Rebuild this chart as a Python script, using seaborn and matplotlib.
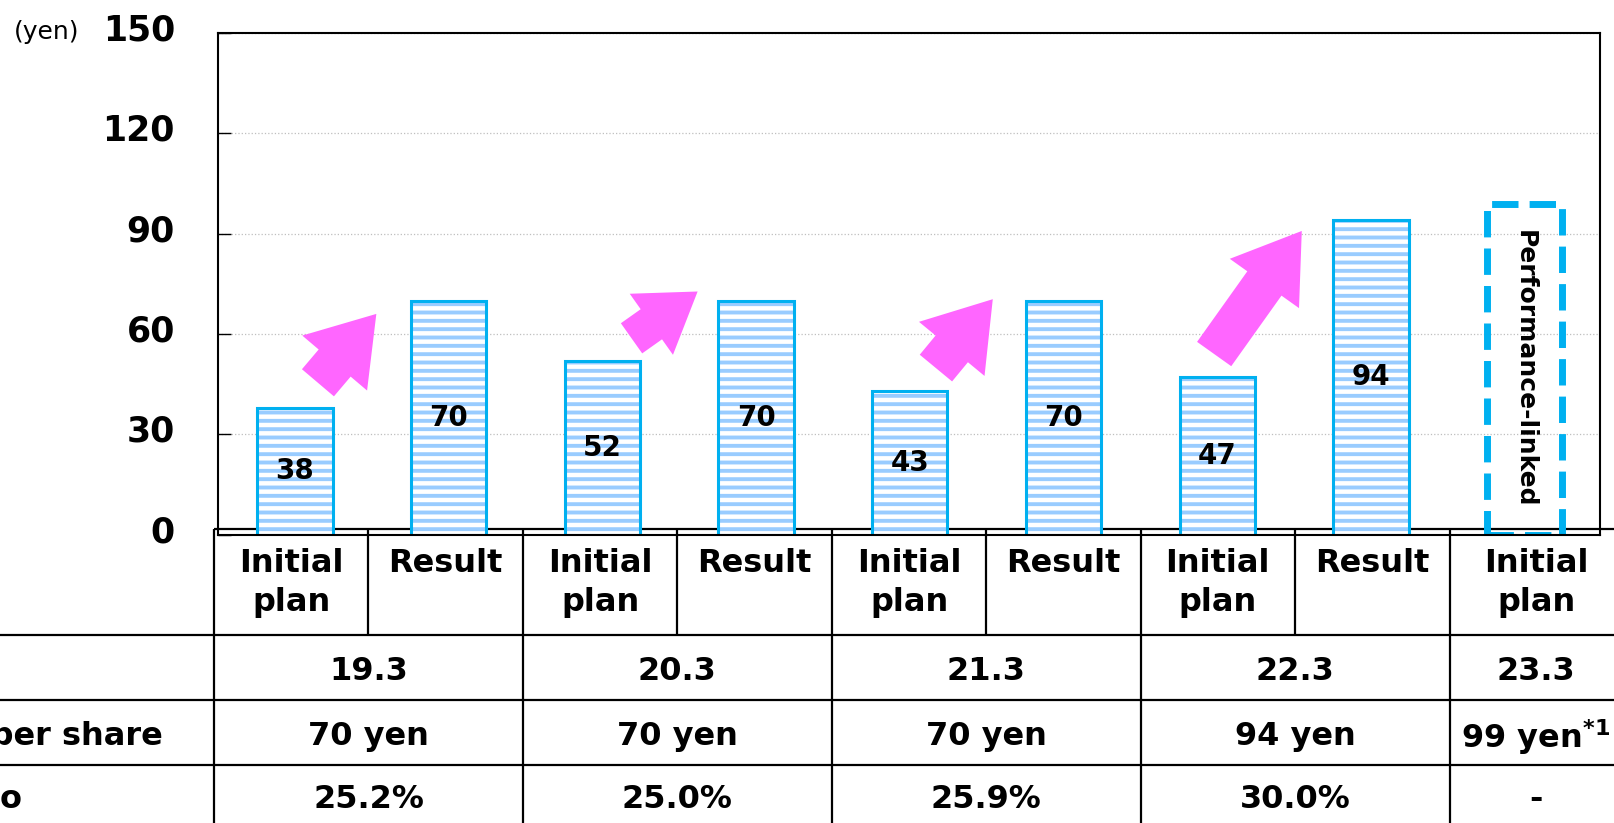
import pandas as pd
import matplotlib.pyplot as plt
import seaborn as sns
from matplotlib.patches import FancyArrowPatch
from matplotlib.transforms import ScaledTranslation

# Data
bar_years = ['19.3', '19.3', '20.3', '20.3', '21.3', '21.3', '22.3', '22.3', '23.3']
kinds = ['Initial\nplan', 'Result', 'Initial\nplan', 'Result', 'Initial\nplan', 'Result',
         'Initial\nplan', 'Result', 'Initial\nplan']
values = [38, 70, 52, 70, 43, 70, 47, 94, 99]
years = ['19.3', '20.3', '21.3', '22.3', '23.3']
dividends = ['70 yen', '70 yen', '70 yen', '94 yen', r'99 yen$^{\mathbf{*1}}$']
payout = ['25.2%', '25.0%', '25.9%', '30.0%', '-']
row_labels = ['FY', 'Dividends per share', 'Payout ratio']
yticks = [0, 30, 60, 90, 120, 150]

# pink "increase" arrows: start -> end (category position, yen) and size factor
arrow_from = [(0.15, 45.4), (2.19, 58.7), (4.17, 49.8), (5.98, 54.0)]
arrow_to = [(0.53, 66.0), (2.62, 72.7), (4.54, 70.4), (6.55, 90.8)]
arrow_size = [1.0, 0.88, 1.0, 1.0]

df = pd.DataFrame({'label': [f'{y} {k}' for y, k in zip(bar_years, kinds)],
                   'value': values})

EDGE = '#00B0F0'
STRIPE = '#99CCFF'
PINK = '#FF66FF'

sns.set_style('white')
plt.rcParams['font.family'] = ['DejaVu Sans']
plt.rcParams['text.color'] = 'black'
plt.rcParams['ytick.labelcolor'] = 'black'
plt.rcParams['hatch.linewidth'] = 2.8
plt.rcParams['hatch.color'] = STRIPE

fig = plt.figure(figsize=(16.14, 8.23), dpi=100)
tab = fig.add_axes([0, 0, 1, 1], zorder=0)
ax = fig.add_axes([0.13507, 0.35042, 0.85626, 0.60948], zorder=1)
ax.patch.set_alpha(0)

n = len(values)
# striped fill
sns.barplot(data=df, x='label', y='value', color='white', width=0.49, errorbar=None,
            hatch='--', edgecolor=STRIPE, linewidth=0, ax=ax)
# cyan outline
sns.barplot(data=df, x='label', y='value', fill=False, color=EDGE, width=0.49,
            errorbar=None, linewidth=2.2, ax=ax)

# last one is a dashed "performance-linked" box
ax.patches[n - 1].set_visible(False)
box = ax.patches[2 * n - 1]
box.set_linewidth(5)
box.set_linestyle((0, (3.8, 1.6)))
box.set_joinstyle('round')

ax.bar_label(ax.containers[0], labels=[str(v) for v in values[:-1]] + [''],
             label_type='center', fontsize=20, fontweight='bold', color='black')
ax.text(n - 1, values[-1] / 2, 'Performance-linked', rotation=-90, ha='center',
        va='center', fontsize=18, fontweight='bold')

for (x0, y0), (x1, y1), s in zip(arrow_from, arrow_to, arrow_size):
    style = f'simple,head_length={46.4 * s},head_width={61.2 * s},tail_width={30.2 * s}'
    ax.add_patch(FancyArrowPatch((x0, y0), (x1, y1), arrowstyle=style, mutation_scale=1,
                                 color=PINK, lw=0, shrinkA=0, shrinkB=0, zorder=4))

ax.set_ylim(0, 150)
ax.set_xlim(-0.5, 8.49)
ax.set_yticks(yticks)
ax.set_xlabel('')
ax.set_ylabel('')
ax.tick_params(axis='x', bottom=False, labelbottom=False)
ax.tick_params(axis='y', left=True, direction='in', length=9.4, width=1.0, color='black',
               labelcolor='black', pad=31, labelsize=25)
shift = ScaledTranslation(0, 0.06, fig.dpi_scale_trans)
for lab in ax.get_yticklabels():
    lab.set_fontweight('bold')
    lab.set_transform(lab.get_transform() + shift)
ax.grid(axis='y', color='#BFBFBF', linestyle=':', linewidth=0.9)
ax.set_axisbelow(True)
for sp in ax.spines.values():
    sp.set_visible(True)
    sp.set_color('black')
    sp.set_linewidth(1.5)

fig.text(47 / 1614, 1 - 32 / 823, '(yen)', ha='center', va='center', fontsize=18)

# table under the chart (x in category units, y in pixels from the top)
tab.set_xlim(-1.886, 8.565)
tab.set_ylim(823, 0)
tab.axis('off')
row_edges = [528.5, 635, 700, 765]
row_mid = [667.5, 732.5, 796]
col_x = list(range(n - 1)) + [8.06]
grp_x = [0.5, 2.5, 4.5, 6.5, 8.06]
lkw = dict(color='black', lw=1.6)
tab.hlines(row_edges[0], -0.5, 8.565, **lkw)
tab.hlines(row_edges[1:], -1.886, 8.565, **lkw)
tab.vlines([-0.5, 1.5, 3.5, 5.5, 7.5], row_edges[0], 823, **lkw)
tab.vlines([0.5, 2.5, 4.5, 6.5], row_edges[0], row_edges[1], **lkw)

tkw = dict(fontsize=23, fontweight='bold')
for x, k in zip(col_x, kinds):
    tab.text(x, 548, k, ha='center', va='top', linespacing=1.35, **tkw)
for row, y in zip([years, dividends, payout], row_mid):
    for x, t in zip(grp_x, row):
        tab.text(x, y, t, ha='center', va='center_baseline', **tkw)
for lab, y in zip(row_labels, row_mid):
    tab.text(-3.175, y, lab, ha='left', va='center_baseline', **tkw)

plt.savefig('out.png', dpi=100)
